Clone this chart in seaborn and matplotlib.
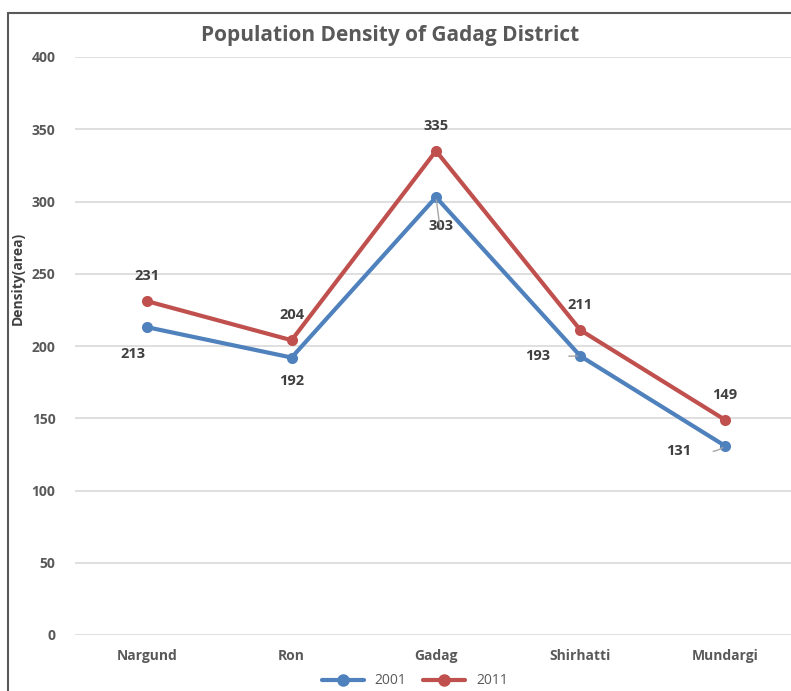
import matplotlib
matplotlib.use("Agg")
import matplotlib.pyplot as plt
import seaborn as sns
import pandas as pd
from matplotlib.patches import Rectangle
from matplotlib.lines import Line2D

categories = ["Nargund", "Ron", "Gadag", "Shirhatti", "Mundargi"]
density_2001 = [213, 192, 303, 193, 131]
density_2011 = [231, 204, 335, 211, 149]
years = ["2001", "2011"]
yticks = [0, 50, 100, 150, 200, 250, 300, 350, 400]

df = pd.DataFrame({
    "Taluk": categories * 2,
    "Density": density_2001 + density_2011,
    "Year": [years[0]] * len(categories) + [years[1]] * len(categories),
})

sns.set_theme(style="white")
plt.rcParams["font.family"] = ["Open Sans", "DejaVu Sans"]

BLUE = "#4F81BD"
RED = "#C0504D"
TXT = "#595959"

fig = plt.figure(figsize=(7.91, 6.91), dpi=100)
W, H = 791, 691
ax = fig.add_axes([75 / W, 1 - 635 / H, (797 - 75) / W, (635 - 57) / H])

sns.lineplot(data=df, x="Taluk", y="Density", hue="Year", palette=[BLUE, RED],
             marker="o", markersize=8, markeredgewidth=0, linewidth=3.0,
             legend=False, ax=ax, sort=False)

ax.set_ylim(0, 400)
ax.set_xlim(-0.5, len(categories) - 0.5)
ax.set_yticks(yticks)
ax.set_yticklabels([str(v) for v in yticks], fontsize=10, fontweight="bold", color=TXT)
ax.set_xticks(range(len(categories)))
ax.set_xticklabels(categories, fontsize=10, fontweight="bold", color=TXT)
ax.tick_params(axis="y", length=0, pad=14)
ax.tick_params(axis="x", length=0, pad=10)
ax.set_xlabel("")
ax.set_ylabel("")
for s in ax.spines.values():
    s.set_visible(False)
ax.yaxis.grid(True, color="#D9D9D9", linewidth=1.2)
ax.set_axisbelow(True)
for l in ax.get_lines():
    l.set_clip_on(False)

# data labels
for i, v in enumerate(density_2011):
    ax.annotate(str(v), (i, v), xytext=(0, 13), textcoords="offset points",
                ha="center", va="bottom", fontsize=10.5, fontweight="bold", color="#404040")

offs_2001 = [(-10, -14), (0, -12), (4, -16), (-22, 0), (-24, -4)]
for i, (v, (dx, dy)) in enumerate(zip(density_2001, offs_2001)):
    ax.annotate(str(v), (i, v), xytext=(dx, dy), textcoords="offset points",
                ha="center" if abs(dx) < 15 else "right",
                va="top" if dy < -5 else "center",
                fontsize=10.5, fontweight="bold", color="#404040")

# leader lines
ax.annotate("", (2, density_2001[2]), xytext=(2.03, 280),
            arrowprops=dict(arrowstyle="-", color="#A6A6A6", lw=1))
ax.annotate("", (3, density_2001[3]), xytext=(2.9, 193),
            arrowprops=dict(arrowstyle="-", color="#A6A6A6", lw=1))
ax.annotate("", (4, density_2001[4]), xytext=(3.9, 127),
            arrowprops=dict(arrowstyle="-", color="#A6A6A6", lw=1,
                            connectionstyle="arc3,rad=0.2"))

# title and axis label
fig.text(390 / W, 1 - 35 / H, "Population Density of Gadag District",
         ha="center", va="center", fontsize=15, fontweight="bold", color=TXT)
fig.text(18 / W, 1 - 278 / H, "Density(area)", rotation=90, ha="center",
         va="center", fontsize=10, fontweight="bold", color="#404040")

# outer chart border (cropped)
fig.patches.append(Rectangle((8 / W, -0.1), 1.2, 1 - 13 / H + 0.1,
                             transform=fig.transFigure, fill=False,
                             edgecolor="#595959", linewidth=1.5))

handles = [Line2D([0], [0], color=BLUE, lw=3.0, marker="o", markersize=8),
           Line2D([0], [0], color=RED, lw=3.0, marker="o", markersize=8)]
fig.legend(handles, years, loc="center", bbox_to_anchor=(415 / W, 1 - 681 / H),
           ncol=2, frameon=False, fontsize=10, handlelength=3, columnspacing=1.2,
           labelcolor=TXT)

fig.savefig("out.png", dpi=100)
